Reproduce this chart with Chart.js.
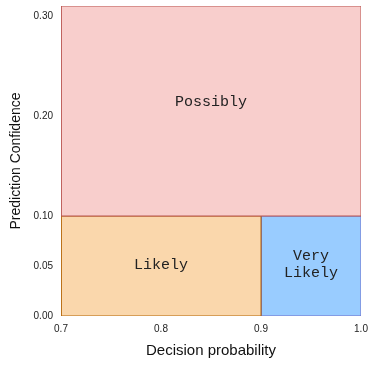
<!DOCTYPE html>
<html>
<head>
<meta charset="utf-8">
<script src="https://cdn.jsdelivr.net/npm/chart.js@4/dist/chart.umd.min.js"></script>
<style>
html,body{margin:0;padding:0;background:#fff;}
#wrap{width:392px;height:366px;}
</style>
</head>
<body>
<div id="wrap"><canvas id="c" width="392" height="366"></canvas></div>
<script>
// Regions (decision probability range x, prediction confidence range y)
const regionNames = ["Possibly", "Likely", "Very\nLikely"];
const regionX0 = [0.7, 0.7, 0.9];
const regionX1 = [1.0, 0.9, 1.0];
const regionY0 = [0.10, 0.00, 0.00];
const regionY1 = [0.31, 0.10, 0.10];
const labelX = [0.85, 0.80, 0.95];
const labelY = [0.215, 0.052, 0.052];
const fillColors = ["#f8cecc", "#fad7ac", "#99ccff"];
const borderColors = ["#b85450", "#b46504", "#6c6cc8"];
const xTicks = [0.7, 0.8, 0.9, 1.0];
const yTicks = [0.00, 0.05, 0.10, 0.20, 0.30];

const datasets = regionNames.map((n, i) => ({
  label: n,
  data: [
    {x: regionX0[i], y: regionY0[i]},
    {x: regionX1[i], y: regionY0[i]},
    {x: regionX1[i], y: regionY1[i]},
    {x: regionX0[i], y: regionY1[i]},
    {x: regionX0[i], y: regionY0[i]}
  ],
  showLine: true,
  fill: 'shape',
  backgroundColor: fillColors[i],
  borderColor: borderColors[i],
  borderWidth: 1,
  pointRadius: 0,
  tension: 0
}));

const labelPlugin = {
  id: 'regionLabels',
  afterDatasetsDraw(chart) {
    const ctx = chart.ctx;
    const xs = chart.scales.x, ys = chart.scales.y;
    ctx.save();
    ctx.font = '15px "Liberation Mono", "Courier New", monospace';
    ctx.fillStyle = '#222';
    ctx.textAlign = 'center';
    ctx.textBaseline = 'middle';
    regionNames.forEach((n, i) => {
      const lines = n.split('\n');
      const px = xs.getPixelForValue(labelX[i]);
      const py = ys.getPixelForValue(labelY[i]);
      const lh = 17;
      lines.forEach((l, k) => {
        ctx.fillText(l, px, py + 1 + (k - (lines.length - 1) / 2) * lh);
      });
    });
    ctx.restore();
  }
};

new Chart(document.getElementById('c'), {
  type: 'scatter',
  data: { datasets },
  plugins: [labelPlugin],
  options: {
    responsive: false,
    animation: false,
    layout: { padding: { top: 6, right: 31, left: 0, bottom: 0 } },
    plugins: { legend: { display: false }, tooltip: { enabled: false } },
    scales: {
      x: {
        type: 'linear', min: 0.7, max: 1.0,
        grid: { display: false, drawTicks: false },
        border: { display: false },
        afterBuildTicks(s) { s.ticks = xTicks.map(v => ({value: v})); },
        afterFit(s) { s.height = 50; },
        ticks: {
          padding: 7, color: '#222',
          font: { family: '"Liberation Sans", Arial, sans-serif', size: 10 },
          callback: v => Number(v).toFixed(1)
        },
        title: {
          display: true, text: 'Decision probability', color: '#111',
          font: { family: '"Liberation Sans", Arial, sans-serif', size: 15 },
          padding: { top: 0, bottom: 6 }
        }
      },
      y: {
        type: 'linear', min: 0, max: 0.31,
        grid: { display: false, drawTicks: false },
        border: { display: false },
        afterBuildTicks(s) { s.ticks = yTicks.map(v => ({value: v})); },
        afterFit(s) { s.width = 61; s.paddingTop = 0; s.paddingBottom = 0; },
        ticks: {
          padding: 8, color: '#222',
          font: { family: '"Liberation Sans", Arial, sans-serif', size: 10 },
          callback: v => Number(v).toFixed(2)
        },
        title: {
          display: true, text: 'Prediction Confidence', color: '#111',
          font: { family: '"Liberation Sans", Arial, sans-serif', size: 14 },
          padding: { top: 8, bottom: 0 }
        }
      }
    }
  }
});
</script>
</body>
</html>
